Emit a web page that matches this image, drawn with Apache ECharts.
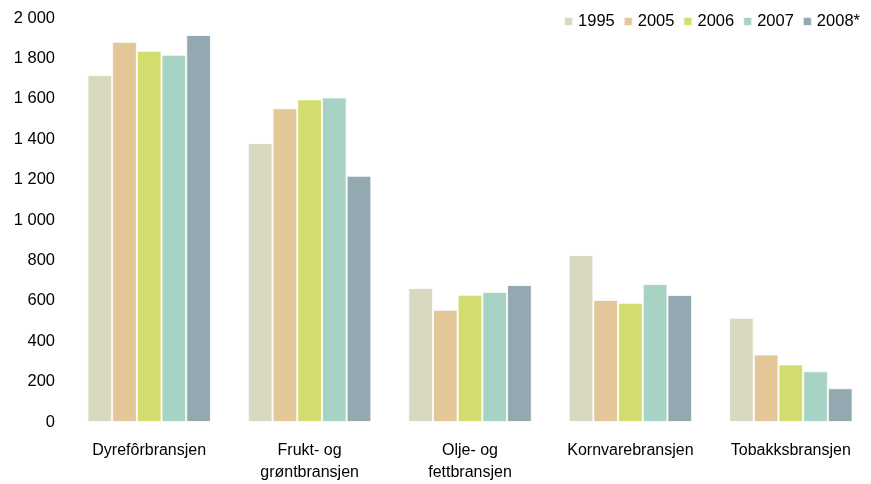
<!DOCTYPE html>
<html lang="no">
<head>
    <meta charset="UTF-8">
    <title>Bransjer</title>
    <script src="https://cdn.jsdelivr.net/npm/echarts@6/dist/echarts.min.js"></script>
</head>
<body style="margin: 0; background: #fff;">
<div id="container" style="width: 871px; height: 484px;"></div>
<script type="text/javascript">
    // data
    let categories = ['Dyrefôrbransjen', 'Frukt- og\ngrøntbransjen', 'Olje- og\nfettbransjen', 'Kornvarebransjen', 'Tobakksbransjen'];
    let years = ['1995', '2005', '2006', '2007', '2008*'];
    let v1995 = [1718, 1381, 663, 826, 516];
    let v2005 = [1882, 1553, 556, 604, 334];
    let v2006 = [1838, 1597, 630, 590, 285];
    let v2007 = [1818, 1607, 644, 683, 251];
    let v2008 = [1916, 1219, 678, 629, 167];
    let yTicks = [0, 200, 400, 600, 800, 1000, 1200, 1400, 1600, 1800, 2000];

    let colors = ['#d9d9c0', '#e3c799', '#d3dc6e', '#a7d3c4', '#94a8b2'];
    let values = [v1995, v2005, v2006, v2007, v2008];

    let dom = document.getElementById('container');
    let myChart = echarts.init(dom);

    let series = years.map(function (y, i) {
        return {
            type: 'bar',
            name: y,
            data: values[i],
            barGap: '0%',
            barCategoryGap: '23%',
            itemStyle: {color: colors[i], borderColor: 'rgba(255,255,255,0.8)', borderWidth: 1}
        };
    });

    let option = {
        animation: false,
        color: colors,
        textStyle: {fontFamily: 'Liberation Sans, Arial, sans-serif'},
        legend: {
            data: years,
            right: 6,
            top: 8,
            itemWidth: 9,
            itemHeight: 9,
            itemGap: 8,
            icon: 'rect',
            textStyle: {fontSize: 16.5, color: '#000', fontFamily: 'Liberation Sans'}
        },
        grid: {left: 69, top: 18, width: 810, bottom: 58, containLabel: false},
        xAxis: {
            type: 'category',
            data: categories,
            axisLine: {show: false},
            axisTick: {show: false},
            axisLabel: {interval: 0, fontSize: 16, color: '#000', margin: 18, lineHeight: 22, fontFamily: 'Liberation Sans'}
        },
        yAxis: {
            type: 'value',
            min: yTicks[0],
            max: yTicks[yTicks.length - 1],
            interval: 200,
            splitLine: {show: false},
            axisLine: {show: false},
            axisTick: {show: false},
            axisLabel: {
                fontSize: 16.5,
                color: '#000',
                margin: 14,
                fontFamily: 'Liberation Sans',
                formatter: function (v) {
                    return String(v).replace(/\B(?=(\d{3})+(?!\d))/g, ' ');
                }
            }
        },
        series: series
    };
    myChart.setOption(option, true);
</script>
</body>
</html>
